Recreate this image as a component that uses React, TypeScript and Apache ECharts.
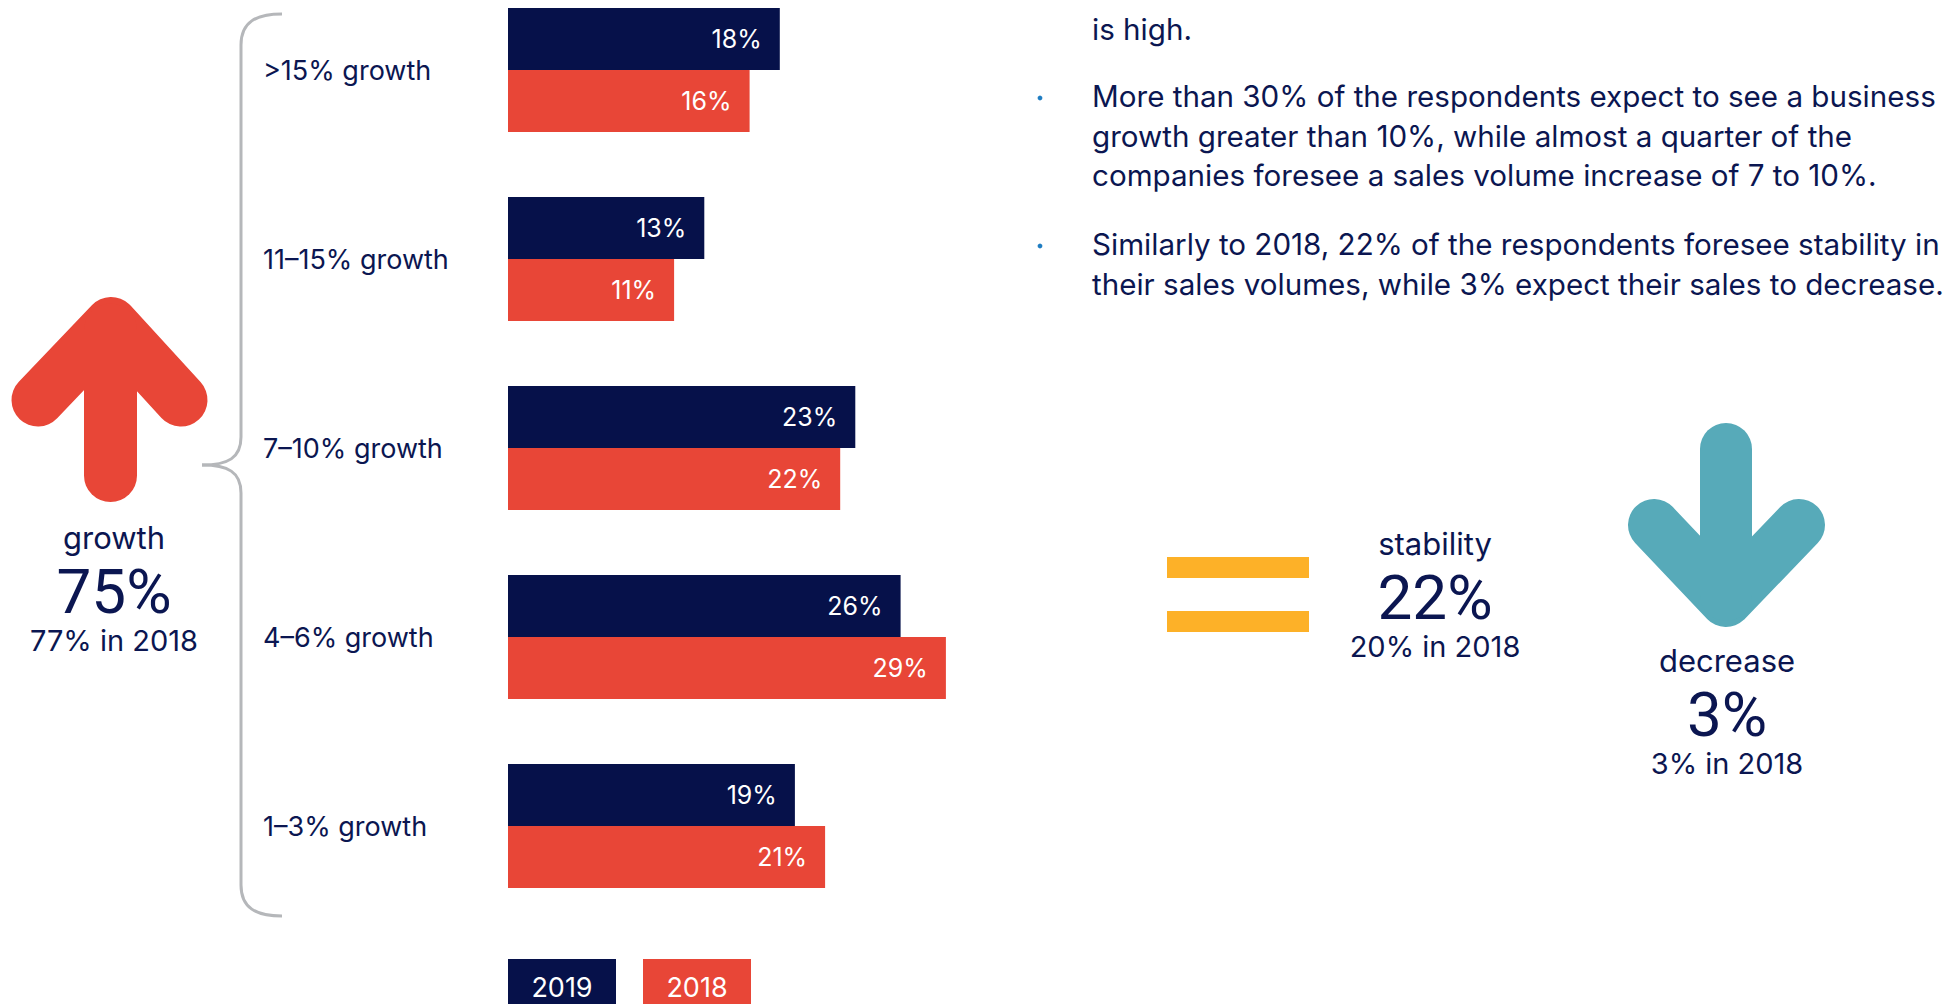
import React, { useEffect, useRef } from "react";
import * as echarts from "echarts";

const categories = [">15% growth", "11–15% growth", "7–10% growth", "4–6% growth", "1–3% growth"];
const seriesNames = ["2019", "2018"];
const values2019 = [18, 13, 23, 26, 19];
const values2018 = [16, 11, 22, 29, 21];

const growthNow = 75;
const growthPrev = 77;
const stabilityNow = 22;
const stabilityPrev = 20;
const decreaseNow = 3;
const decreasePrev = 3;

const paragraphLines = [
  "is high.",
  "More than 30% of the respondents expect to see a business",
  "growth greater than 10%, while almost a quarter of the",
  "companies foresee a sales volume increase of 7 to 10%.",
  "Similarly to 2018, 22% of the respondents foresee stability in",
  "their sales volumes, while 3% expect their sales to decrease.",
];

const NAVY = "#06114A";
const RED = "#E84637";
const TEAL = "#57AAB9";
const YELLOW = "#FDB128";
const GREY = "#B5B7BA";
const TEXT = "#0B1651";
const FONT = "Inter";

export default function App() {
  const ref = useRef<HTMLDivElement>(null);

  useEffect(() => {
    if (!ref.current) return;
    const chart = echarts.init(ref.current, undefined, { renderer: "svg" });

    const lineY = [29, 96, 136, 175, 244, 284];
    const bulletLines = [1, 4];

    const graphics: any[] = [];

    // paragraph text
    paragraphLines.forEach((t, i) => {
      graphics.push({
        type: "text",
        x: 1092,
        y: lineY[i],
        style: { text: t, fill: TEXT, fontSize: 29.6, lineHeight: 32, fontFamily: FONT, align: "left", verticalAlign: "middle" },
      });
    });
    bulletLines.forEach((i) => {
      graphics.push({
        type: "circle",
        shape: { cx: 1040, cy: lineY[i] + 2, r: 2.4 },
        style: { fill: "#1F7DC2" },
      });
    });

    // red up arrow
    graphics.push({
      type: "polyline",
      shape: { points: [[38, 400], [111, 323.5], [181, 400]] },
      style: { stroke: RED, lineWidth: 53, lineCap: "round", lineJoin: "round", fill: null },
    });
    graphics.push({
      type: "line",
      shape: { x1: 110.5, y1: 330, x2: 110.5, y2: 475.5 },
      style: { stroke: RED, lineWidth: 53, lineCap: "round" },
    });

    // teal down arrow
    graphics.push({
      type: "polyline",
      shape: { points: [[1654, 525], [1726, 601], [1799, 525]] },
      style: { stroke: TEAL, lineWidth: 52, lineCap: "round", lineJoin: "round", fill: null },
    });
    graphics.push({
      type: "line",
      shape: { x1: 1726, y1: 449, x2: 1726, y2: 595 },
      style: { stroke: TEAL, lineWidth: 52, lineCap: "round" },
    });

    // yellow equals
    graphics.push({ type: "rect", shape: { x: 1167, y: 557, width: 142, height: 21 }, style: { fill: YELLOW } });
    graphics.push({ type: "rect", shape: { x: 1167, y: 611, width: 142, height: 21 }, style: { fill: YELLOW } });

    // brace
    const braceStyle = { stroke: GREY, lineWidth: 3, fill: null };
    graphics.push({
      type: "bezierCurve",
      shape: { x1: 282, y1: 14, cpx1: 256, cpy1: 14, cpx2: 241, cpy2: 22, x2: 241, y2: 45 },
      style: braceStyle,
    });
    graphics.push({ type: "line", shape: { x1: 241, y1: 45, x2: 241, y2: 437 }, style: braceStyle });
    graphics.push({
      type: "bezierCurve",
      shape: { x1: 241, y1: 437, cpx1: 241, cpy1: 458, cpx2: 228, cpy2: 465, x2: 202, y2: 465 },
      style: braceStyle,
    });
    graphics.push({
      type: "bezierCurve",
      shape: { x1: 202, y1: 465, cpx1: 228, cpy1: 465, cpx2: 241, cpy2: 472, x2: 241, y2: 493 },
      style: braceStyle,
    });
    graphics.push({ type: "line", shape: { x1: 241, y1: 493, x2: 241, y2: 885 }, style: braceStyle });
    graphics.push({
      type: "bezierCurve",
      shape: { x1: 241, y1: 885, cpx1: 241, cpy1: 908, cpx2: 256, cpy2: 916, x2: 282, y2: 916 },
      style: braceStyle,
    });

    // summary texts
    const summary = (cx: number, cy: number, label: string, now: number, prev: number) => {
      graphics.push({
        type: "text", x: cx, y: cy - 2,
        style: { text: label, fill: TEXT, fontSize: 31, lineHeight: 31, fontFamily: FONT, align: "center", verticalAlign: "middle" },
      });
      graphics.push({
        type: "text", x: cx, y: cy + 52,
        style: { text: now + "%", fill: TEXT, fontSize: 62, lineHeight: 52, fontFamily: "Roboto", align: "center", verticalAlign: "middle" },
      });
      graphics.push({
        type: "text", x: cx, y: cy + 101,
        style: { text: prev + "% in 2018", fill: TEXT, fontSize: 29, lineHeight: 29, fontFamily: FONT, align: "center", verticalAlign: "middle" },
      });
    };
    summary(114, 539, "growth", growthNow, growthPrev);
    summary(1435, 545, "stability", stabilityNow, stabilityPrev);
    summary(1727, 662, "decrease", decreaseNow, decreasePrev);

    // legend boxes
    const legendColors = [NAVY, RED];
    const legendX = [508, 643];
    seriesNames.forEach((n, i) => {
      graphics.push({ type: "rect", shape: { x: legendX[i], y: 959, width: 108, height: 62 }, style: { fill: legendColors[i] } });
      graphics.push({
        type: "text", x: legendX[i] + 54, y: 987,
        style: { text: n, fill: "#FFFFFF", fontSize: 27, fontFamily: FONT, align: "center", verticalAlign: "middle" },
      });
    });

    const labelCfg = {
      show: true,
      position: "insideRight",
      distance: 18,
      color: "#FFFFFF",
      fontSize: 25,
      fontFamily: FONT,
      formatter: (p: any) => p.value + "%",
    };

    chart.setOption({
      animation: false,
      grid: { left: 508, top: -24.5, width: 453, height: 945, containLabel: false, outerBoundsMode: "none" },
      xAxis: {
        type: "value",
        min: 0,
        max: 30,
        show: false,
      },
      yAxis: {
        type: "category",
        data: categories,
        inverse: true,
        axisLine: { show: false },
        axisTick: { show: false },
        splitLine: { show: false },
        axisLabel: {
          align: "left",
          margin: 245,
          color: TEXT,
          fontSize: 27,
          fontFamily: FONT,
        },
      },
      series: [
        {
          name: seriesNames[0],
          type: "bar",
          data: values2019,
          barWidth: 62,
          barGap: "0%",
          itemStyle: { color: NAVY },
          label: labelCfg,
        },
        {
          name: seriesNames[1],
          type: "bar",
          data: values2018,
          barWidth: 62,
          barGap: "0%",
          itemStyle: { color: RED },
          label: labelCfg,
        },
      ],
      graphic: graphics,
    });

    return () => chart.dispose();
  }, []);

  return (
    <div
      ref={ref}
      style={{ position: "fixed", left: 0, top: 0, width: 1959, height: 1004, background: "#FFFFFF" }}
    />
  );
}
